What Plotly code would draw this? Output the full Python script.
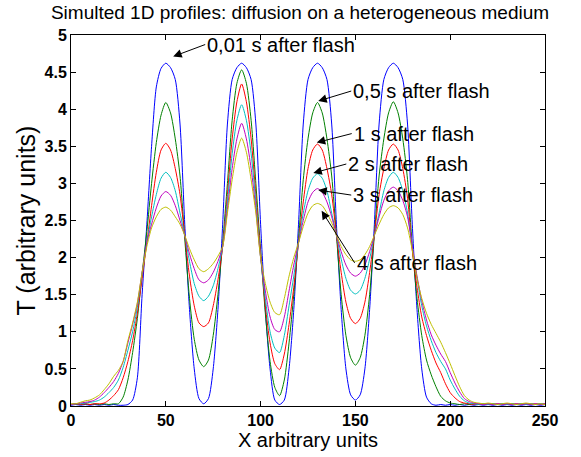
import plotly.graph_objects as go

# x positions (arbitrary units), sampled every 2.5
x_vals = [i * 2.5 for i in range(101)]

t001 = [0.01, 0.02, 0.01, 0.02, 0.01, 0.02, 0.01, 0.02,
        0.01, 0.02, 0.01, 0.01, 0.02, 0.08, 0.38, 1.5,
        2.45, 3.5, 4.3, 4.55, 4.62, 4.56, 4.4, 3.8,
        2.45, 1.3, 0.5, 0.1, 0.03, 0.1, 0.5, 1.3,
        2.45, 3.8, 4.4, 4.56, 4.62, 4.56, 4.4, 3.8,
        2.45, 1.3, 0.5, 0.08, 0.02, 0.08, 0.5, 1.3,
        2.45, 3.8, 4.4, 4.56, 4.62, 4.56, 4.4, 3.8,
        2.45, 1.3, 0.5, 0.15, 0.08, 0.15, 0.5, 1.3,
        2.45, 3.8, 4.4, 4.56, 4.62, 4.56, 4.4, 3.8,
        2.45, 1.3, 0.5, 0.12, 0.03, 0.01, 0.02, 0.01,
        0.02, 0.01, 0.02, 0.01, 0.02, 0.01, 0.02, 0.01,
        0.02, 0.01, 0.02, 0.01, 0.02, 0.01, 0.02, 0.01,
        0.02, 0.01, 0.02, 0.01, 0.02]

t05 = [0.02, 0.03, 0.02, 0.03, 0.02, 0.03, 0.02, 0.03,
       0.02, 0.03, 0.03, 0.12, 0.35, 0.72, 1.18, 1.78,
       2.35, 3.0, 3.55, 3.92, 4.09, 3.95, 3.6, 3.1,
       2.25, 1.45, 0.9, 0.62, 0.53, 0.62, 0.95, 1.5,
       2.2, 3.0, 3.85, 4.35, 4.53, 4.35, 3.85, 3.0,
       2.1, 1.25, 0.6, 0.25, 0.14, 0.35, 0.85, 1.5,
       2.25, 3.05, 3.6, 3.95, 4.09, 3.95, 3.6, 3.1,
       2.3, 1.5, 0.95, 0.65, 0.55, 0.65, 0.95, 1.5,
       2.3, 3.1, 3.6, 3.95, 4.1, 3.95, 3.6, 3.05,
       2.15, 1.45, 0.95, 0.62, 0.42, 0.26, 0.13, 0.07,
       0.04, 0.03, 0.02, 0.03, 0.02, 0.03, 0.02, 0.03,
       0.02, 0.03, 0.02, 0.03, 0.02, 0.03, 0.02, 0.03,
       0.02, 0.03, 0.02, 0.03, 0.02]

t1 = [0.02, 0.03, 0.02, 0.03, 0.02, 0.03, 0.03, 0.04,
      0.08, 0.14, 0.22, 0.38, 0.6, 0.88, 1.25, 1.72,
      2.2, 2.7, 3.15, 3.45, 3.54, 3.45, 3.2, 2.85,
      2.3, 1.75, 1.35, 1.12, 1.07, 1.12, 1.35, 1.7,
      2.15, 2.85, 3.6, 4.1, 4.34, 4.1, 3.6, 2.85,
      2.05, 1.35, 0.85, 0.57, 0.49, 0.7, 1.1, 1.6,
      2.2, 2.75, 3.2, 3.45, 3.53, 3.45, 3.2, 2.85,
      2.3, 1.8, 1.4, 1.18, 1.11, 1.18, 1.4, 1.8,
      2.3, 2.85, 3.2, 3.45, 3.53, 3.45, 3.2, 2.8,
      2.1, 1.6, 1.2, 0.95, 0.75, 0.58, 0.45, 0.3,
      0.18, 0.11, 0.06, 0.04, 0.03, 0.02, 0.03, 0.02,
      0.03, 0.02, 0.03, 0.02, 0.03, 0.02, 0.03, 0.02,
      0.03, 0.02, 0.03, 0.02, 0.03]

t2 = [0.02, 0.03, 0.03, 0.04, 0.05, 0.06, 0.08, 0.12,
      0.18, 0.25, 0.35, 0.52, 0.75, 1.0, 1.33, 1.78,
      2.2, 2.55, 2.85, 3.07, 3.15, 3.08, 2.9, 2.6,
      2.3, 1.95, 1.65, 1.48, 1.42, 1.48, 1.62, 1.85,
      2.15, 2.75, 3.4, 3.85, 4.06, 3.85, 3.4, 2.75,
      2.0, 1.45, 1.0, 0.78, 0.72, 0.95, 1.35, 1.75,
      2.2, 2.6, 2.9, 3.07, 3.13, 3.07, 2.9, 2.6,
      2.3, 1.98, 1.72, 1.56, 1.51, 1.56, 1.72, 1.98,
      2.3, 2.6, 2.9, 3.08, 3.15, 3.08, 2.9, 2.6,
      2.15, 1.72, 1.35, 1.08, 0.88, 0.72, 0.6, 0.5,
      0.35, 0.23, 0.13, 0.07, 0.04, 0.03, 0.02, 0.03,
      0.02, 0.03, 0.02, 0.03, 0.02, 0.03, 0.02, 0.03,
      0.02, 0.03, 0.02, 0.03, 0.02]

t3 = [0.02, 0.03, 0.04, 0.05, 0.06, 0.08, 0.12, 0.18,
      0.25, 0.33, 0.44, 0.6, 0.85, 1.1, 1.38, 1.8,
      2.2, 2.45, 2.67, 2.83, 2.89, 2.84, 2.7, 2.5,
      2.3, 2.05, 1.85, 1.7, 1.66, 1.7, 1.8, 1.95,
      2.15, 2.65, 3.2, 3.6, 3.81, 3.6, 3.2, 2.65,
      2.0, 1.55, 1.2, 1.03, 1.0, 1.2, 1.55, 1.9,
      2.2, 2.5, 2.75, 2.88, 2.93, 2.88, 2.75, 2.55,
      2.3, 2.08, 1.9, 1.79, 1.75, 1.79, 1.9, 2.08,
      2.3, 2.55, 2.77, 2.9, 2.95, 2.9, 2.77, 2.55,
      2.15, 1.75, 1.42, 1.16, 0.96, 0.82, 0.7, 0.6,
      0.45, 0.31, 0.19, 0.1, 0.06, 0.04, 0.03, 0.02,
      0.03, 0.02, 0.03, 0.02, 0.03, 0.02, 0.03, 0.02,
      0.03, 0.02, 0.03, 0.02, 0.03]

t4 = [0.03, 0.03, 0.05, 0.07, 0.08, 0.11, 0.15, 0.22,
      0.3, 0.4, 0.48, 0.6, 0.88, 1.12, 1.4, 1.8,
      2.15, 2.4, 2.55, 2.65, 2.68, 2.64, 2.55, 2.45,
      2.3, 2.12, 1.97, 1.85, 1.81, 1.85, 1.92, 2.02,
      2.15, 2.6, 3.05, 3.42, 3.61, 3.42, 3.05, 2.6,
      2.0, 1.65, 1.4, 1.26, 1.23, 1.45, 1.75, 2.0,
      2.2, 2.42, 2.6, 2.7, 2.73, 2.7, 2.6, 2.47,
      2.3, 2.15, 2.04, 1.97, 1.95, 1.97, 2.04, 2.15,
      2.3, 2.45, 2.58, 2.67, 2.7, 2.67, 2.58, 2.4,
      2.1, 1.72, 1.45, 1.25, 1.1, 0.98, 0.86, 0.72,
      0.57, 0.41, 0.26, 0.14, 0.08, 0.05, 0.04, 0.03,
      0.04, 0.03, 0.02, 0.03, 0.04, 0.03, 0.02, 0.03,
      0.04, 0.03, 0.02, 0.03, 0.02]

series = [("0,01 s", t001, "#0000ff"),
          ("0,5 s", t05, "#008000"),
          ("1 s", t1, "#ff0000"),
          ("2 s", t2, "#00bfbf"),
          ("3 s", t3, "#bf00bf"),
          ("4 s", t4, "#bfbf00")]

x_ticks = [0, 50, 100, 150, 200, 250]
y_ticks = [0, 0.5, 1, 1.5, 2, 2.5, 3, 3.5, 4, 4.5, 5]
y_tick_text = ["0", "0.5", "1", "1.5", "2", "2.5", "3", "3.5", "4", "4.5", "5"]

labels = ["0,01 s after flash", "0,5 s after flash", "1 s after flash",
          "2 s after flash", "3 s after flash", "4 s after flash"]

FONT = "Liberation Sans, Arial, sans-serif"

fig = go.Figure()
for name, ys, col in series:
    fig.add_trace(go.Scatter(x=x_vals, y=ys, mode="lines", name=name,
                             line=dict(color=col, width=1, shape="spline", smoothing=0.7),
                             showlegend=False))

i_p1 = x_vals.index(50)
i_p3 = x_vals.index(130)
# (curve, peak index, dx, dy, ax, ay)
ann_specs = [
    (t001, i_p1, 3.9, 0.09, 32, -12),
    (t05, i_p3, 0.4, 0.02, 33, -10),
    (t1, i_p3, -0.4, 0.02, 35, -9),
    (t2, i_p3, -2.2, 0.01, 33, -9),
    (t3, i_p3, 0.4, -0.02, 33, 5),
    (t4, i_p3, 2.2, -0.1, 33, 52),
]
for lab, (ys, idx, dx, dy, ax, ay) in zip(labels, ann_specs):
    fig.add_annotation(x=x_vals[idx] + dx, y=ys[idx] + dy, text=lab,
                       showarrow=True, ax=ax, ay=ay, xanchor="left", yanchor="middle",
                       arrowhead=2, arrowsize=1.7, arrowwidth=1, arrowcolor="black",
                       font=dict(family=FONT, size=20, color="black"))

axis_common = dict(showline=True, linecolor="black", linewidth=1, mirror="allticks",
                   ticks="inside", ticklen=5, tickwidth=1, tickcolor="black",
                   showgrid=False, zeroline=False,
                   tickfont=dict(family=FONT, size=16, color="black", weight="bold"))

fig.update_layout(
    width=581, height=457,
    margin=dict(l=71, r=36, t=35, b=48),
    paper_bgcolor="white", plot_bgcolor="white",
    title=dict(text="Simulted 1D profiles: diffusion on a heterogeneous medium",
               x=300 / 581, xref="container", xanchor="center",
               y=1 - 12 / 457, yref="container", yanchor="middle",
               font=dict(family=FONT, size=19, color="black")),
    xaxis=dict(range=[0, 250], tickvals=x_ticks,
               title=dict(text="X arbitrary units", standoff=2,
                          font=dict(family=FONT, size=20, color="black")),
               **axis_common),
    yaxis=dict(range=[0, 5], tickvals=y_ticks, ticktext=y_tick_text,
               title=dict(text="T (arbitrary units)", standoff=1,
                          font=dict(family=FONT, size=25, color="black")),
               **axis_common),
)

fig.write_html("out.html")
